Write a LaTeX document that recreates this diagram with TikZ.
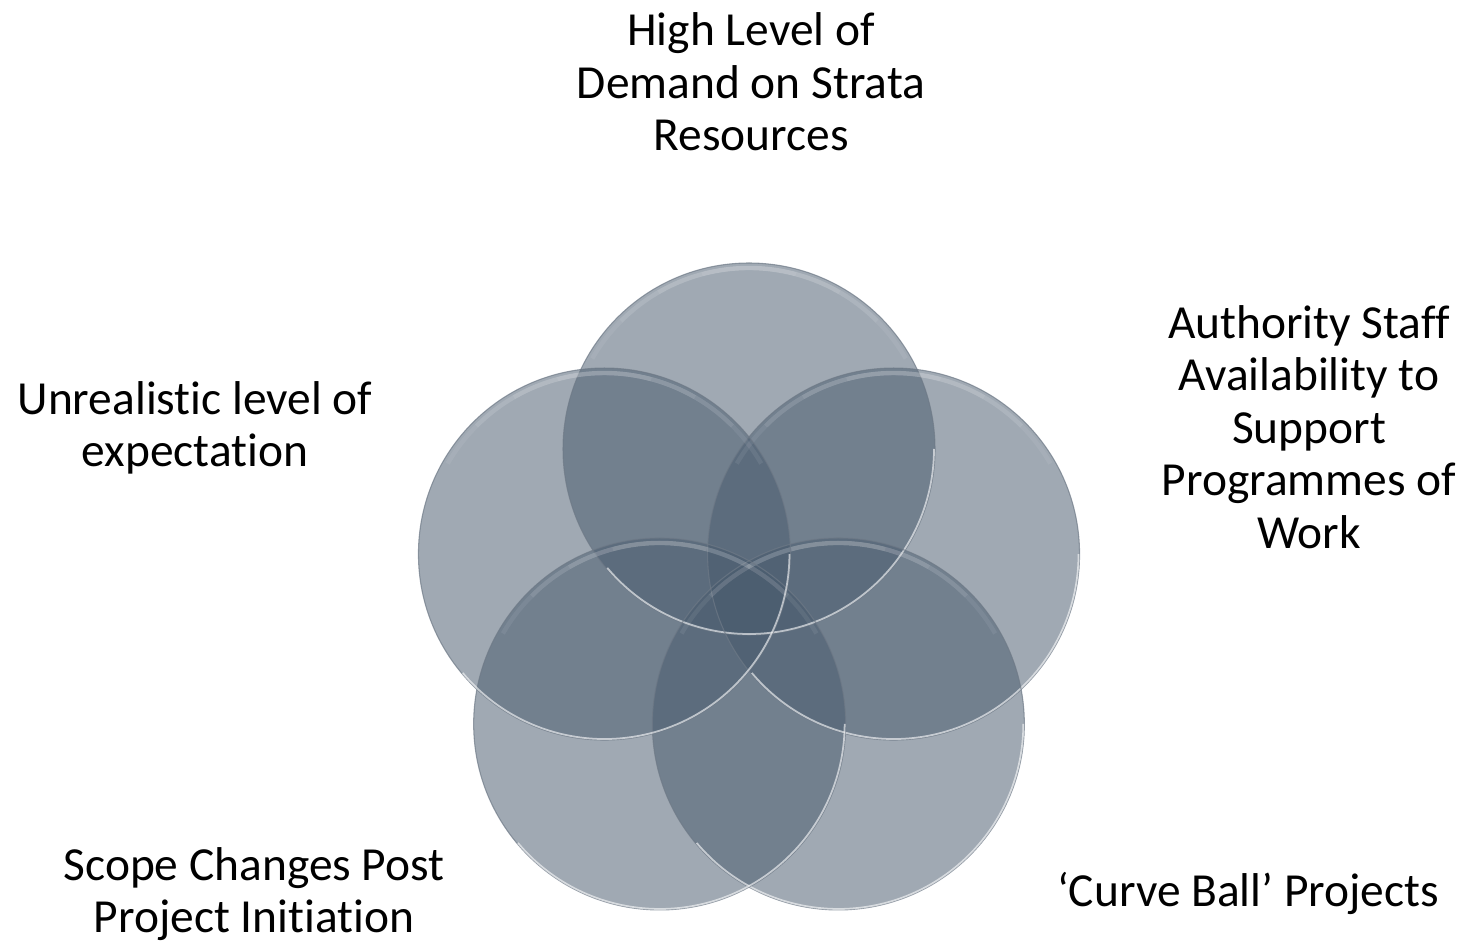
\documentclass[tikz,border=0pt]{standalone}
\usepackage{fontspec}
\setmainfont{Carlito}[Ligatures=NoCommon]
\usepackage{tikz}
\definecolor{Disc}{RGB}{72,90,109}
\definecolor{Rim}{RGB}{110,121,134}
\tikzset{caption/.style={align=center, inner sep=0pt,
    font=\fontsize{27}{29.8}\selectfont}}
\newcommand{\drawrim}[1]{
    \draw[Rim, line width=.6pt, draw opacity=.7] (#1) circle (186);
    \foreach \a in {30,45,60,75}{
      \draw[white, line width=2.5pt, draw opacity=.07] (#1) ++(\a:181) arc (\a:180-\a:181);
    }
    \draw[white, line width=1pt, draw opacity=.6] (#1) ++(220:185) arc (220:360:185);
}

\begin{document}
\begin{tikzpicture}[x=0.02cm,y=0.02cm]
\useasboundingbox (0,0) rectangle (1464,943);
\coordinate (hub) at (749,342);
\foreach \ang/\name in {90/top,18/right,306/lowright,234/lowleft,162/left}{
    \path (hub) ++(\ang:152) coordinate (\name);
}
\foreach \name in {top,right,lowright,lowleft,left}{
    \fill[Disc, fill opacity=.52] (\name) circle (186);
}
\foreach \name in {top,right,lowright,lowleft,left}{
    \drawrim{\name}
}
\node[caption] (demand) at (751,861) {High Level of\\Demand on Strata\\Resources};
\node[caption] (staff) at (1309,516) {Authority Staff\\Availability to\\Support\\Programmes of\\Work};
\node[caption] (curve) at (1248,50) {‘Curve Ball’ Projects};
\node[caption] (scope) at (254,49) {Scope Changes Post\\Project Initiation};
\node[caption] (expect) at (195,515) {Unrealistic level of\\expectation};
\end{tikzpicture}
\end{document}
